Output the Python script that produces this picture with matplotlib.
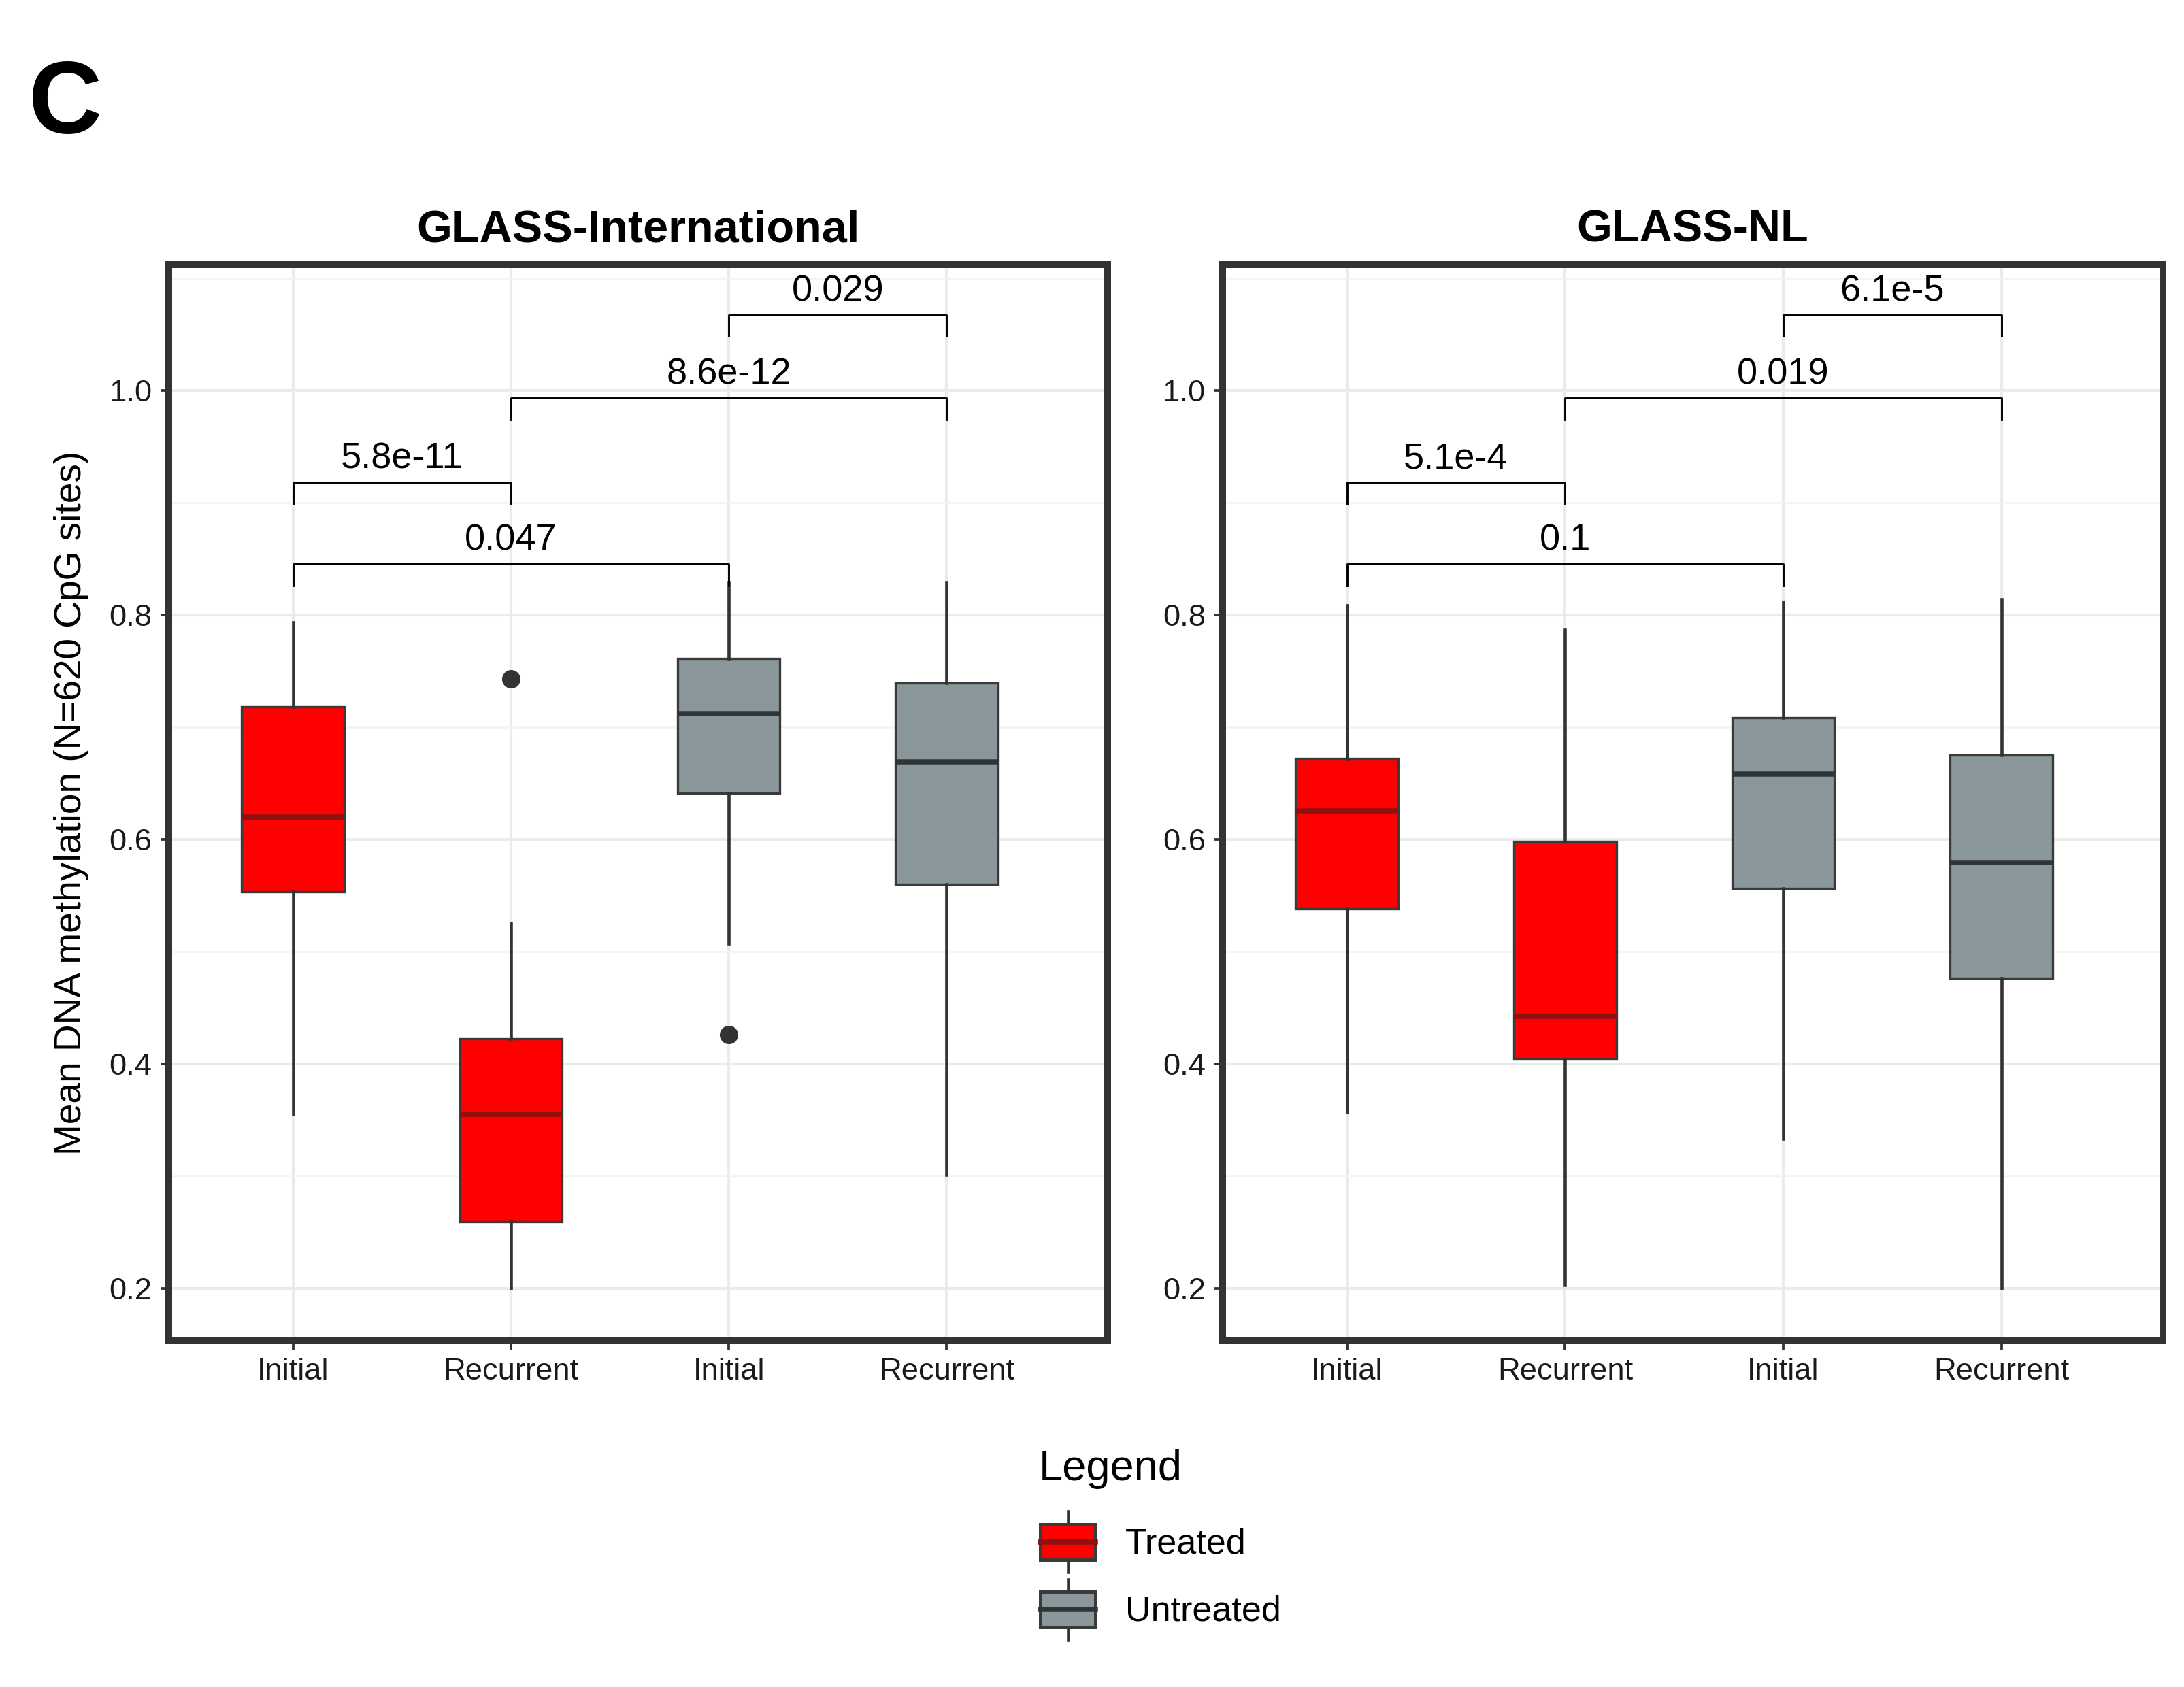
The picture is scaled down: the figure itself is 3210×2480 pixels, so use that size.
import matplotlib
matplotlib.use('Agg')
import matplotlib.pyplot as plt
from matplotlib.patches import Patch, Rectangle
from matplotlib.lines import Line2D
from matplotlib.legend_handler import HandlerBase
from matplotlib.ticker import MultipleLocator

plt.rcParams['font.family'] = ['Liberation Sans', 'DejaVu Sans']

# Données
groups = ['Initial', 'Recurrent', 'Initial', 'Recurrent']
treatment = ['Treated', 'Treated', 'Untreated', 'Untreated']

intl_whislo = [0.355, 0.200, 0.507, 0.301]
intl_q1 = [0.553, 0.259, 0.641, 0.560]
intl_med = [0.620, 0.355, 0.712, 0.669]
intl_q3 = [0.718, 0.422, 0.761, 0.739]
intl_whishi = [0.793, 0.525, 0.829, 0.829]
intl_fliers = [[], [0.743], [0.426], []]

nl_whislo = [0.357, 0.203, 0.333, 0.200]
nl_q1 = [0.538, 0.404, 0.556, 0.476]
nl_med = [0.625, 0.442, 0.658, 0.579]
nl_q3 = [0.672, 0.598, 0.708, 0.675]
nl_whishi = [0.808, 0.787, 0.811, 0.814]
nl_fliers = [[], [], [], []]

# comparaisons : (groupe a, groupe b, hauteur, p-value)
pair_a = [1, 1, 2, 3]
pair_b = [2, 3, 4, 4]
pair_y = [0.918, 0.845, 0.993, 1.067]
intl_p = ['5.8e-11', '0.047', '8.6e-12', '0.029']
nl_p = ['5.1e-4', '0.1', '0.019', '6.1e-5']

fill_colors = {'Treated': '#ff0000', 'Untreated': '#8a989b'}
median_colors = {'Treated': '#8b1212', 'Untreated': '#2f3536'}
edge_color = '#3a3a3a'


def draw_panel(ax, title, whislo, q1, med, q3, whishi, fliers, pvals):
    stats = []
    for i in range(len(groups)):
        stats.append({'whislo': whislo[i], 'q1': q1[i], 'med': med[i],
                      'q3': q3[i], 'whishi': whishi[i], 'fliers': fliers[i]})
    pos = list(range(1, len(groups) + 1))
    bp = ax.bxp(stats, positions=pos, widths=0.47, patch_artist=True,
                showcaps=False, zorder=3,
                whiskerprops=dict(color='#333333', linewidth=1.1),
                flierprops=dict(marker='o', markerfacecolor='#333333',
                                markeredgecolor='#333333', markersize=5.5))
    for i, box in enumerate(bp['boxes']):
        box.set_facecolor(fill_colors[treatment[i]])
        box.set_edgecolor(edge_color)
        box.set_linewidth(0.8)
    for i, m in enumerate(bp['medians']):
        m.set_color(median_colors[treatment[i]])
        m.set_linewidth(1.8)

    # crochets de significativité
    for a, b, y, p in zip(pair_a, pair_b, pair_y, pvals):
        ax.plot([a, a, b, b], [y - 0.019, y, y, y - 0.019], color='black',
                linewidth=0.7, zorder=4)
        ax.text((a + b) / 2, y + 0.006, p, ha='center', va='bottom',
                fontsize=13, zorder=4)

    ax.set_xlim(0.43, 4.74)
    ax.set_ylim(0.153, 1.112)
    ax.set_xticks(pos)
    ax.set_xticklabels(groups, fontsize=10.9)
    ax.yaxis.set_major_locator(MultipleLocator(0.2))
    ax.yaxis.set_minor_locator(MultipleLocator(0.1))
    ax.set_yticks([0.2, 0.4, 0.6, 0.8, 1.0])
    ax.set_yticklabels(['0.2', '0.4', '0.6', '0.8', '1.0'], fontsize=10.9)
    ax.tick_params(axis='both', which='major', length=3, width=0.9,
                   color='#333333', labelcolor='#1a1a1a', pad=3)
    ax.tick_params(axis='y', which='minor', length=0)
    ax.grid(True, which='major', color='#ebebeb', linewidth=1.0, zorder=0)
    ax.grid(True, which='minor', axis='y', color='#f3f3f3', linewidth=0.6, zorder=0)
    ax.set_axisbelow(True)
    for s in ax.spines.values():
        s.set_linewidth(2.4)
        s.set_color('#333333')
    ax.set_title(title, fontsize=16, fontweight='bold', pad=8)


fig = plt.figure(figsize=(10.7, 8.2667), dpi=300)
ax1 = fig.add_axes([0.0773, 0.2052, 0.4300, 0.6380])
ax2 = fig.add_axes([0.5598, 0.2052, 0.4305, 0.6380])

draw_panel(ax1, 'GLASS-International', intl_whislo, intl_q1, intl_med,
           intl_q3, intl_whishi, intl_fliers, intl_p)
draw_panel(ax2, 'GLASS-NL', nl_whislo, nl_q1, nl_med, nl_q3, nl_whishi,
           nl_fliers, nl_p)

ax1.set_ylabel('Mean DNA methylation (N=620 CpG sites)', fontsize=13.2, labelpad=7)

fig.text(0.013, 0.965, 'C', fontsize=36, fontweight='bold', va='top', ha='left')


# légende avec des petites boîtes
class BoxHandler(HandlerBase):
    def create_artists(self, legend, orig_handle, xdescent, ydescent,
                       width, height, fontsize, trans):
        fc = orig_handle.get_facecolor()
        mc = orig_handle.get_edgecolor()
        cx = width / 2 - xdescent
        bw = width * 0.95
        bh = height * 0.58
        y0 = -ydescent + (height - bh) / 2
        x0 = cx - bw / 2
        arts = [
            Line2D([cx, cx], [-ydescent, height - ydescent], color='#333333',
                   linewidth=1.1, transform=trans),
            Rectangle((x0, y0), bw, bh, facecolor=fc, edgecolor=edge_color,
                      linewidth=1.2, transform=trans),
            Line2D([x0, x0 + bw], [y0 + bh / 2, y0 + bh / 2], color=mc,
                   linewidth=1.8, transform=trans),
        ]
        return arts


handles = [Patch(facecolor=fill_colors['Treated'], edgecolor=median_colors['Treated']),
           Patch(facecolor=fill_colors['Untreated'], edgecolor=median_colors['Untreated'])]
leg = fig.legend(handles, ['Treated', 'Untreated'], title='Legend',
                 handler_map={Patch: BoxHandler()}, loc='upper left',
                 bbox_to_anchor=(0.461, 0.160), frameon=False, fontsize=12.5,
                 title_fontsize=15.2, handlelength=1.65, handleheight=2.25,
                 labelspacing=0.2, handletextpad=0.8, alignment='left')
# un peu plus d'espace sous le titre
leg._legend_box.sep = 8

plt.savefig('out.png', dpi=300)
